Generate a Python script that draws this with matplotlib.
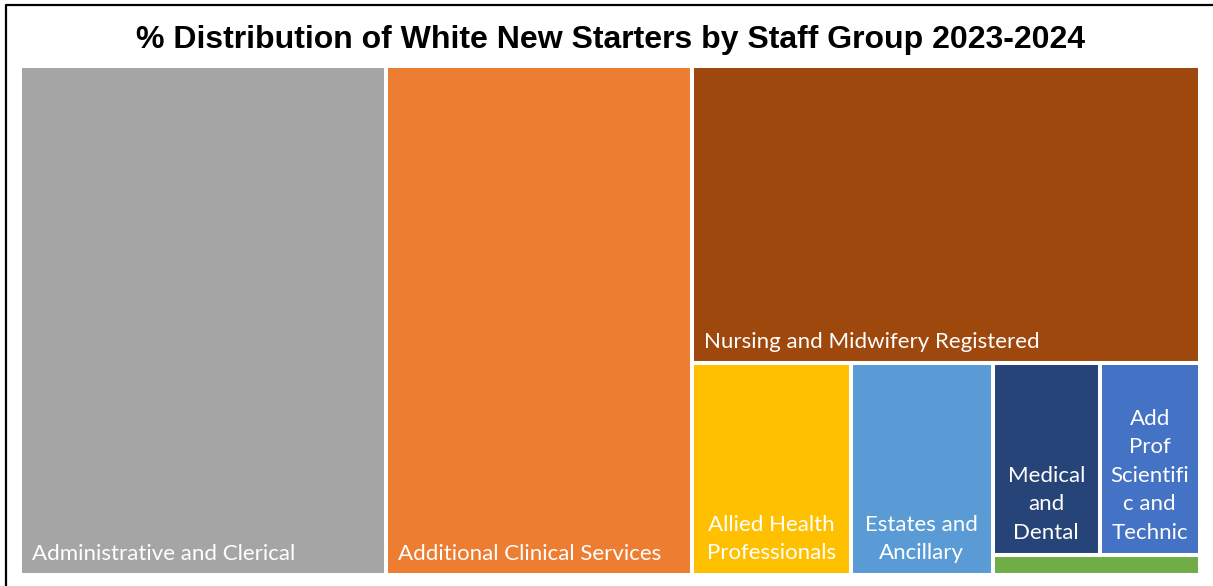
import matplotlib.pyplot as plt
from matplotlib.patches import Rectangle

# % of white new starters per staff group, 2023-2024
groups = ["Administrative and Clerical", "Additional Clinical Services",
          "Nursing and Midwifery Registered", "Allied Health Professionals",
          "Estates and Ancillary", "Medical and Dental",
          "Add Prof Scientific and Technic", "Healthcare Scientists"]
pct = [31.0, 25.9, 25.1, 5.6, 5.0, 3.4, 3.2, 0.7]

# text as it is wrapped inside the tiles ("" = no room for a label)
tile_text = ["Administrative and Clerical", "Additional Clinical Services",
             "Nursing and Midwifery Registered", "Allied Health\nProfessionals",
             "Estates and\nAncillary", "Medical\nand\nDental",
             "Add\nProf\nScientifi\nc and\nTechnic", ""]
colours = ["#A5A5A5", "#ED7D31", "#9E480E", "#FFC000",
           "#5B9BD5", "#264478", "#4472C4", "#70AD47"]


# squarified treemap layout (Bruls et al.), y grows downwards
def layout_row(sizes, x, y, dx, dy):
    w = sum(sizes) / dy
    out = []
    for s in sizes:
        out.append((x, y, w, s / w))
        y += s / w
    return out


def layout_col(sizes, x, y, dx, dy):
    h = sum(sizes) / dx
    out = []
    for s in sizes:
        out.append((x, y, s / h, h))
        x += s / h
    return out


def layout(sizes, x, y, dx, dy):
    if dx >= dy:
        return layout_row(sizes, x, y, dx, dy)
    return layout_col(sizes, x, y, dx, dy)


def leftover(sizes, x, y, dx, dy):
    if dx >= dy:
        w = sum(sizes) / dy
        return x + w, y, dx - w, dy
    h = sum(sizes) / dx
    return x, y + h, dx, dy - h


def worst(sizes, x, y, dx, dy):
    return max(max(r[2] / r[3], r[3] / r[2]) for r in layout(sizes, x, y, dx, dy))


def squarify(sizes, x, y, dx, dy):
    if not sizes:
        return []
    if len(sizes) == 1:
        return layout(sizes, x, y, dx, dy)
    i = 1
    while i < len(sizes) and worst(sizes[:i], x, y, dx, dy) >= worst(sizes[:i + 1], x, y, dx, dy):
        i += 1
    cur, rest = sizes[:i], sizes[i:]
    return layout(cur, x, y, dx, dy) + squarify(rest, *leftover(cur, x, y, dx, dy))


W, H = 1213, 586
fig = plt.figure(figsize=(W / 100, H / 100), dpi=100)
ax = fig.add_axes([0, 0, 1, 1])
ax.set_xlim(0, W)
ax.set_ylim(H, 0)
ax.axis("off")

# plotting area of the treemap
x0, y0, dx, dy = 20, 66, 1180, 509
total = sum(pct)
areas = [p / total * dx * dy for p in pct]
rects = squarify(areas, x0, y0, dx, dy)

for (x, y, w, h), c, txt in zip(rects, colours, tile_text):
    ax.add_patch(Rectangle((x, y), w, h, facecolor=c, edgecolor="white", linewidth=2.9))
    if not txt:
        continue
    if "\n" in txt:
        ax.text(x + w / 2, y + h - 12, txt, color="white", fontsize=16, family="Lato",
                ha="center", va="bottom", multialignment="center", linespacing=1.53)
    else:
        ax.text(x + 12, y + h - 11, txt, color="white", fontsize=16, family="Lato",
                ha="left", va="bottom")

ax.text(611, 40, "% Distribution of White New Starters by Staff Group 2023-2024",
        fontsize=23, fontweight="bold", family="Liberation Sans", ha="center", va="center")

# chart frame (top and left edges)
ax.plot([5.5, 5.5, W], [H, 4.5, 4.5], color="black", linewidth=1.6, solid_capstyle="butt")

fig.savefig("out.png", dpi=100)
